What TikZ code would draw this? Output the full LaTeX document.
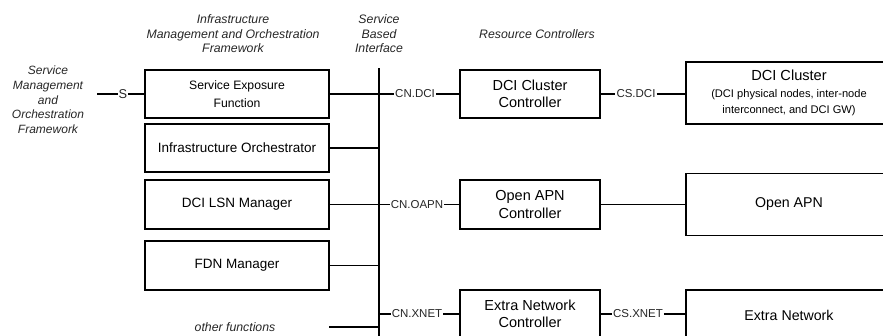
\documentclass[tikz,border=0pt]{standalone}
\usepackage{fontspec}
\setmainfont{Liberation Sans}
\begin{document}
\begin{tikzpicture}[x=1pt,y=-1pt,
  line width=1.1pt,
  box/.style={draw, line width=1.1pt, inner sep=2pt, align=center, text=black},
  fnbox/.style={box, minimum width=184pt, minimum height=48pt},
  ctlbox/.style={box, minimum width=140pt, minimum height=48pt, font=\fontsize{14.5}{17.5}\selectfont},
  resbox/.style={box, minimum width=206pt, minimum height=62pt, font=\fontsize{14.2}{17}\selectfont},
  hdr/.style={align=center, inner sep=0pt, text=black!85, font=\fontsize{12.3}{14.5}\selectfont\itshape},
  ifc/.style={fill=white, inner sep=0.5pt, text=black!85, font=\fontsize{11.5}{13}\selectfont}]
\useasboundingbox (0,0) rectangle (883,335);
\clip (0,0) rectangle (883,335);

% column headings
\node[hdr] (imof) at (233,34) {Infrastructure\\Management and Orchestration\\Framework};
\node[hdr] (sbi) at (379,34) {Service\\Based\\Interface};
\node[hdr] (rc) at (537,34) {Resource Controllers};
\node[hdr, font=\fontsize{12}{14.7}\selectfont\itshape] (smof) at (48,100)
  {Service\\Management\\and\\Orchestration\\Framework};

% service based interface bus
\coordinate (busTop) at (379,68);
\coordinate (busBot) at (379,340);
\draw (busTop) -- (busBot);

% management functions
\node[fnbox, font=\fontsize{12.2}{17.5}\selectfont] (sef) at (237,94) {Service Exposure\\Function};
\node[fnbox, font=\fontsize{13.5}{16}\selectfont] (io) at (237,148) {Infrastructure Orchestrator};
\node[fnbox, font=\fontsize{13.5}{16}\selectfont, minimum height=49pt] (lsn) at (237,204.5) {DCI LSN Manager};
\node[fnbox, font=\fontsize{13.5}{16}\selectfont, minimum height=49pt] (fdn) at (237,265.5) {FDN Manager};
\node[hdr] (other) at (235,327) {other functions};

% S reference point towards the service management side
\coordinate (sIn) at (97,94);
\node[ifc, font=\fontsize{12.8}{14}\selectfont] (s) at (123,94) {S};
\draw (sIn) -- (s) -- (sef.west);

% functions attached to the bus
\draw (sef.east) -- (sef.east -| busTop);
\draw (io.east) -- (io.east -| busTop);
\draw (lsn.east) -- (lsn.east -| busTop);
\draw (fdn.east) -- (fdn.east -| busTop);
\draw (329,327) coordinate (otherEnd) -- (otherEnd -| busTop);

% resource controllers
\node[ctlbox] (dcic) at (530,94) {DCI Cluster\\Controller};
\node[ctlbox, minimum height=49pt] (oapnc) at (530,204.5) {Open APN\\Controller};
\node[ctlbox] (xnetc) at (530,314) {Extra Network\\Controller};

% resources
\node[resbox, font=\fontsize{11.1}{16.5}\selectfont] (dci) at (789,93)
  {{\fontsize{14.6}{16.5}\selectfont DCI Cluster}\\(DCI physical nodes, inter-node\\interconnect, and DCI GW)};
\node[resbox] (oapn) at (789,204.5) {Open APN};
\node[resbox, minimum height=50pt] (xnet) at (789,315) {Extra Network};

% bus to controllers
\node[ifc] (cndci) at (415,94) {CN.DCI};
\draw (dcic.west -| busTop) -- (cndci) -- (dcic.west);
\node[ifc] (cnoapn) at (417,204.5) {CN.OAPN};
\draw (oapnc.west -| busTop) -- (cnoapn) -- (oapnc.west);
\node[ifc] (cnxnet) at (417,314) {CN.XNET};
\draw (xnetc.west -| busTop) -- (cnxnet) -- (xnetc.west);

% controllers to resources
\node[ifc] (csdci) at (636,94) {CS.DCI};
\draw (dcic.east) -- (csdci) -- (csdci -| dci.west);
\draw (oapnc.east) -- (oapn.west);
\node[ifc] (csxnet) at (638,314) {CS.XNET};
\draw (xnetc.east) -- (csxnet) -- (csxnet -| xnet.west);
\end{tikzpicture}
\end{document}
